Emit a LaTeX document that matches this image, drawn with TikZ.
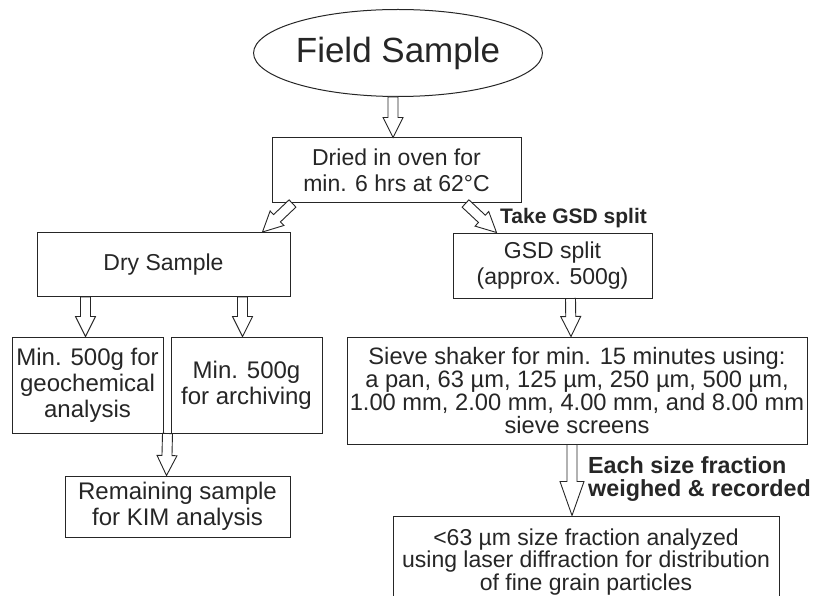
\documentclass[tikz,border=0pt]{standalone}
\usepackage{fontspec}
\setmainfont{Liberation Sans}
\usetikzlibrary{calc,shapes.geometric}
\definecolor{ink}{HTML}{262626}
\tikzset{
  box/.style={draw=ink, line width=1pt, rectangle, inner sep=0pt, align=center,
    text=ink, font=\fontsize{23}{25.5}\selectfont},
  bigbox/.style={box, font=\fontsize{24}{26}\selectfont},
  tightbox/.style={box, font=\fontsize{23}{23}\selectfont},
  harr/.style={draw=ink, line width=0.9pt, fill=white, line join=miter},
  lbl/.style={text=ink, font=\bfseries\fontsize{23.3}{22.5}\selectfont, inner sep=0pt, align=left}
}
% #1 head length, #2 start, #3 tip, #4 head half-width
\newcommand{\harrow}[4][20pt]{%
  \draw[harr] ($(#2)!5pt!90:(#3)$) -- ($(#3)!#1!(#2)!5pt!-90:(#2)$)
    -- ($(#3)!#1!(#2)!#4!-90:(#2)$) -- (#3)
    -- ($(#3)!#1!(#2)!#4!90:(#2)$) -- ($(#3)!#1!(#2)!5pt!90:(#2)$)
    -- ($(#2)!5pt!-90:(#3)$) -- cycle;}
\begin{document}
\begin{tikzpicture}[x=1pt,y=-1pt]
\useasboundingbox (0,0) rectangle (816,596);
\clip (0,0) rectangle (816,596);
\fill[white] (0,0) rectangle (816,596);

\node[ellipse, draw=ink, line width=1pt, minimum width=273pt, minimum height=87pt, inner sep=0pt,
  text=ink, font=\fontsize{35}{38}\selectfont] (fs) at (398,53) {Field Sample};

\node[box, minimum width=249pt, minimum height=65pt] (dried) at (396.5,170.5)
  {Dried in oven for\\min. 6 hrs at 62°C};
\node[box, minimum width=253pt, minimum height=64pt] (dry) at (163.5,264.5) {Dry Sample};
\node[box, minimum width=199pt, minimum height=65pt] (gsd) at (552.5,265.5)
  {GSD split\\(approx. 500g)};
\node[bigbox, minimum width=151pt, minimum height=96pt] (geo) at (87.5,385)
  {Min. 500g for\\geochemical\\analysis};
\node[bigbox, minimum width=151pt, minimum height=96pt] (arch) at (246.5,385)
  {Min. 500g\\for archiving};
\node[bigbox, minimum width=225pt, minimum height=61pt] (rem) at (177.5,506.5)
  {Remaining sample\\for KIM analysis};
\node[tightbox, font=\fontsize{23.7}{23}\selectfont, minimum width=460pt, minimum height=107pt] (sieve) at (577,390.5)
  {Sieve shaker for min. 15 minutes using:\\a pan, 63 µm, 125 µm, 250 µm, 500 µm,\\1.00 mm, 2.00 mm, 4.00 mm, and 8.00 mm\\sieve screens};
\node[tightbox, font=\fontsize{23}{22.5}\selectfont, minimum width=386pt, minimum height=92pt] (fine) at (586,562)
  {<63 µm size fraction analyzed\\using laser diffraction for distribution\\of fine grain particles};

\node[lbl, font=\bfseries\fontsize{21}{23}\selectfont, anchor=west] (take) at (500,218) {Take GSD split};
\node[lbl, anchor=west] (each) at (588,479) {Each size fraction\\weighed \& recorded};

\harrow{$(fs.south)+(-5,0)$}{$(dried.north)+(-3.5,0)$}{10pt}
\harrow{$(dried.south west)+(21,0)$}{$(dry.north east)+(-28,0)$}{10pt}
\harrow{$(dried.south east)+(-56,0)$}{$(gsd.north west)+(44,0)$}{10pt}
\harrow{$(dry.south west)+(49,0)$}{$(geo.north west)+(74,0)$}{10pt}
\harrow{$(dry.south west)+(206,0)$}{$(arch.north west)+(72,0)$}{10pt}
\harrow{$(geo.south east)+(4,0)$}{$(rem.north west)+(102,0)$}{10pt}
\harrow{$(gsd.south)+(18,0)$}{$(sieve.north)+(-6,0)$}{10pt}
\harrow[34pt]{$(sieve.south)+(-5,0)$}{$(fine.north)+(-14,0)$}{12pt}
\end{tikzpicture}
\end{document}
